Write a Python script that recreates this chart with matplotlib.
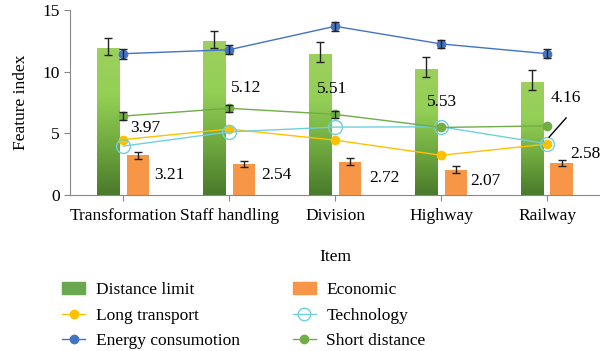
import numpy as np
import matplotlib
matplotlib.use("Agg")
import matplotlib.pyplot as plt
from matplotlib.colors import LinearSegmentedColormap
from matplotlib.patches import Patch
from matplotlib.lines import Line2D

categories = ["Transformation", "Staff handling", "Division", "Highway", "Railway"]
distance_limit = [11.9, 12.45, 11.42, 10.2, 9.17]
distance_limit_err = [0.7, 0.7, 0.8, 0.8, 0.8]
economic = [3.21, 2.54, 2.72, 2.07, 2.58]
economic_err = [0.3, 0.25, 0.25, 0.25, 0.25]
long_transport = [4.5, 5.35, 4.45, 3.23, 4.13]
technology = [3.97, 5.12, 5.51, 5.53, 4.16]
energy = [11.45, 11.77, 13.67, 12.24, 11.45]
energy_err = [0.4, 0.35, 0.35, 0.3, 0.35]
short_distance = [6.4, 7.03, 6.54, 5.48, 5.61]
short_distance_err = [0.35, 0.3, 0.3]

plt.rcParams['font.family'] = ['Liberation Serif', 'DejaVu Serif']
FS = 12.5

fig = plt.figure(figsize=(6.0, 3.51), dpi=100)
ax = fig.add_axes([0.117, 0.444, 0.883, 0.528])

x = np.arange(len(categories))
w = 0.215
green_cmap = LinearSegmentedColormap.from_list("g", ["#4a7a2c", "#6fa83e", "#93cf55", "#9dd05e"])

bars = ax.bar(x - 0.14, distance_limit, w, color="#86c04a", zorder=2)
grad = np.linspace(0, 1, 256).reshape(-1, 1)
for b in bars:
    x0 = b.get_x(); h = b.get_height()
    im = ax.imshow(grad, extent=[x0, x0 + b.get_width(), 0, h], origin="lower",
                   aspect="auto", cmap=green_cmap, zorder=2)
    im.set_clip_path(b)
ax.errorbar(x - 0.14, np.array(distance_limit) + 0.15, yerr=distance_limit_err, fmt="none",
            ecolor="#222222", elinewidth=1.0, capsize=3, zorder=5)

ax.bar(x + 0.14, economic, w, color="#f79646", zorder=2)
ax.errorbar(x + 0.14, economic, yerr=economic_err, fmt="none",
            ecolor="#222222", elinewidth=1.0, capsize=3, zorder=5)

ax.plot(x, long_transport, color="#ffc000", marker="o", ms=6, lw=1.0, zorder=4)
ax.plot(x, technology, color="#6fd0dc", marker="o", ms=10, mfc="none", mew=1.0, lw=1.0, zorder=4)
ax.plot(x, energy, color="#4472c4", marker="o", ms=6, lw=1.0, zorder=4)
ax.errorbar(x, energy, yerr=energy_err, fmt="none", ecolor="#222222", elinewidth=1.0, capsize=3, zorder=5)
ax.plot(x, short_distance, color="#70ad47", marker="o", ms=6, lw=1.0, zorder=4)
ax.errorbar(x[:3], short_distance[:3], yerr=short_distance_err, fmt="none",
            ecolor="#222222", elinewidth=1.0, capsize=3, zorder=5)

tech_pos = [(0.07, 5.43), (1.02, 8.68), (1.83, 8.6), (2.87, 7.54), (4.03, 7.87)]
for v, (px, py) in zip(technology, tech_pos):
    ax.text(px, py, f"{v:.2f}", fontsize=FS, va="center", ha="left", zorder=6)
eco_pos = [(0.29, 1.6), (1.3, 1.6), (2.32, 1.36), (3.28, 1.15), (4.215, 3.3)]
for v, (px, py) in zip(economic, eco_pos):
    ax.text(px, py, f"{v:.2f}", fontsize=FS, va="center", ha="left", zorder=6)
ax.plot([4.02, 4.18], [4.7, 6.25], color="black", lw=1.0, zorder=6)

ax.set_xlim(-0.5, 4.5)
ax.set_ylim(0, 15)
ax.set_yticks([0, 5, 10, 15])
ax.set_xticks(x)
ax.set_xticklabels(categories, fontsize=FS)
ax.tick_params(axis="y", labelsize=FS, length=4, color="#888888")
ax.tick_params(axis="x", length=4, color="#888888", pad=5)
for s in ["top", "right"]:
    ax.spines[s].set_visible(False)
for s in ["left", "bottom"]:
    ax.spines[s].set_color("#888888")
ax.set_ylabel("Feature index", fontsize=FS, labelpad=10)
ax.set_xlabel("Item", fontsize=FS, labelpad=18)

handles = [
    Patch(color="#6aa84f"),
    Line2D([], [], color="#ffc000", marker="o", ms=6, lw=1.0),
    Line2D([], [], color="#4472c4", marker="o", ms=6, lw=1.0),
    Patch(color="#f79646"),
    Line2D([], [], color="#6fd0dc", marker="o", ms=9, mfc="none", lw=1.0),
    Line2D([], [], color="#70ad47", marker="o", ms=6, lw=1.0),
]
labels = ["Distance limit", "Long transport", "Energy consumotion",
          "Economic", "Technology", "Short distance"]
fig.legend(handles, labels, ncol=2, loc="lower left", bbox_to_anchor=(0.077, -0.04),
           frameon=False, fontsize=FS, columnspacing=3.05, handlelength=1.35,
           handletextpad=0.6, labelspacing=0.55)

fig.savefig("out.png", dpi=100)
